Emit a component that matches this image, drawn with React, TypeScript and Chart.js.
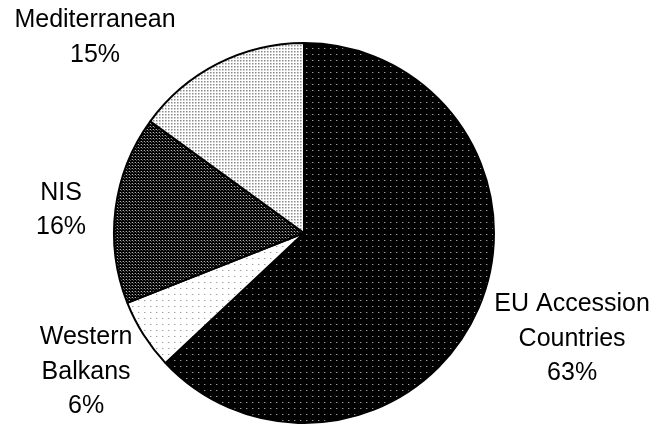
import React, { useEffect, useRef } from 'react';
import { Chart, registerables } from 'chart.js';

Chart.register(...registerables);

// ---- data ----
const categories = ['EU Accession Countries', 'Western Balkans', 'NIS', 'Mediterranean'];
const labelLines = [['EU Accession', 'Countries'], ['Western', 'Balkans'], ['NIS'], ['Mediterranean']];
const shares = [63, 6, 16, 15];
// label anchors relative to the pie centre, in units of the pie radius
const labelAnchorX = [1.411, -1.147, -1.279, -1.1];
const labelAnchorY = [0.558, 0.732, -0.121, -1.029];

function makePattern(size: number, bg: string, dots: [number, number, string][]) {
  const c = document.createElement('canvas');
  c.width = size;
  c.height = size;
  const g = c.getContext('2d')!;
  g.fillStyle = bg;
  g.fillRect(0, 0, size, size);
  for (const [x, y, col] of dots) {
    g.fillStyle = col;
    g.fillRect(x, y, 1, 1);
  }
  return g.createPattern(c, 'repeat')!;
}

const labelPlugin = {
  id: 'pieLabels',
  afterDatasetsDraw(chart: any) {
    const meta = chart.getDatasetMeta(0);
    const ctx = chart.ctx as CanvasRenderingContext2D;
    ctx.save();
    ctx.font = '25px "Liberation Sans", Arial, sans-serif';
    ctx.fillStyle = '#000';
    ctx.textAlign = 'center';
    ctx.textBaseline = 'middle';
    const lh = 34.5;
    meta.data.forEach((arc: any, i: number) => {
      const { x, y, outerRadius } = arc.getProps(['x', 'y', 'outerRadius'], true);
      const cx = x + labelAnchorX[i] * outerRadius;
      const cy = y + labelAnchorY[i] * outerRadius;
      const lines = [...labelLines[i], `${shares[i]}%`];
      lines.forEach((t, j) => ctx.fillText(t, cx, cy + (j - (lines.length - 1) / 2) * lh));
    });
    ctx.restore();
  },
};

export default function App() {
  const ref = useRef<HTMLCanvasElement>(null);
  useEffect(() => {
    if (!ref.current) return;
    const patterns = [
      makePattern(6, '#000000', [[0, 0, '#9a9a9a'], [1, 0, '#3a3a3a']]),
      makePattern(6, '#ffffff', [[0, 0, '#a0a0a0'], [1, 0, '#d8d8d8']]),
      makePattern(3, '#000000', [[0, 0, '#b0b0b0'], [1, 1, '#505050'], [2, 0, '#303030']]),
      makePattern(3, '#ffffff', [[0, 0, '#8a8a8a'], [1, 0, '#c0c0c0'], [0, 1, '#c8c8c8'], [1, 1, '#e0e0e0']]),
    ];
    const chart = new Chart(ref.current, {
      type: 'pie',
      data: {
        labels: categories,
        datasets: [
          {
            data: shares,
            backgroundColor: patterns as any,
            borderColor: '#000',
            borderWidth: 2,
          },
        ],
      },
      options: {
        responsive: false,
        animation: false,
        layout: { padding: { top: 42, bottom: 1, left: 0, right: 53 } },
        plugins: {
          legend: { display: false },
          tooltip: { enabled: false },
        },
      },
      plugins: [labelPlugin],
    });
    return () => chart.destroy();
  }, []);
  return (
    <div style={{ position: 'absolute', left: 0, top: 0, width: 661, height: 425, background: '#fff' }}>
      <canvas ref={ref} width={661} height={425} style={{ display: 'block' }} />
    </div>
  );
}
